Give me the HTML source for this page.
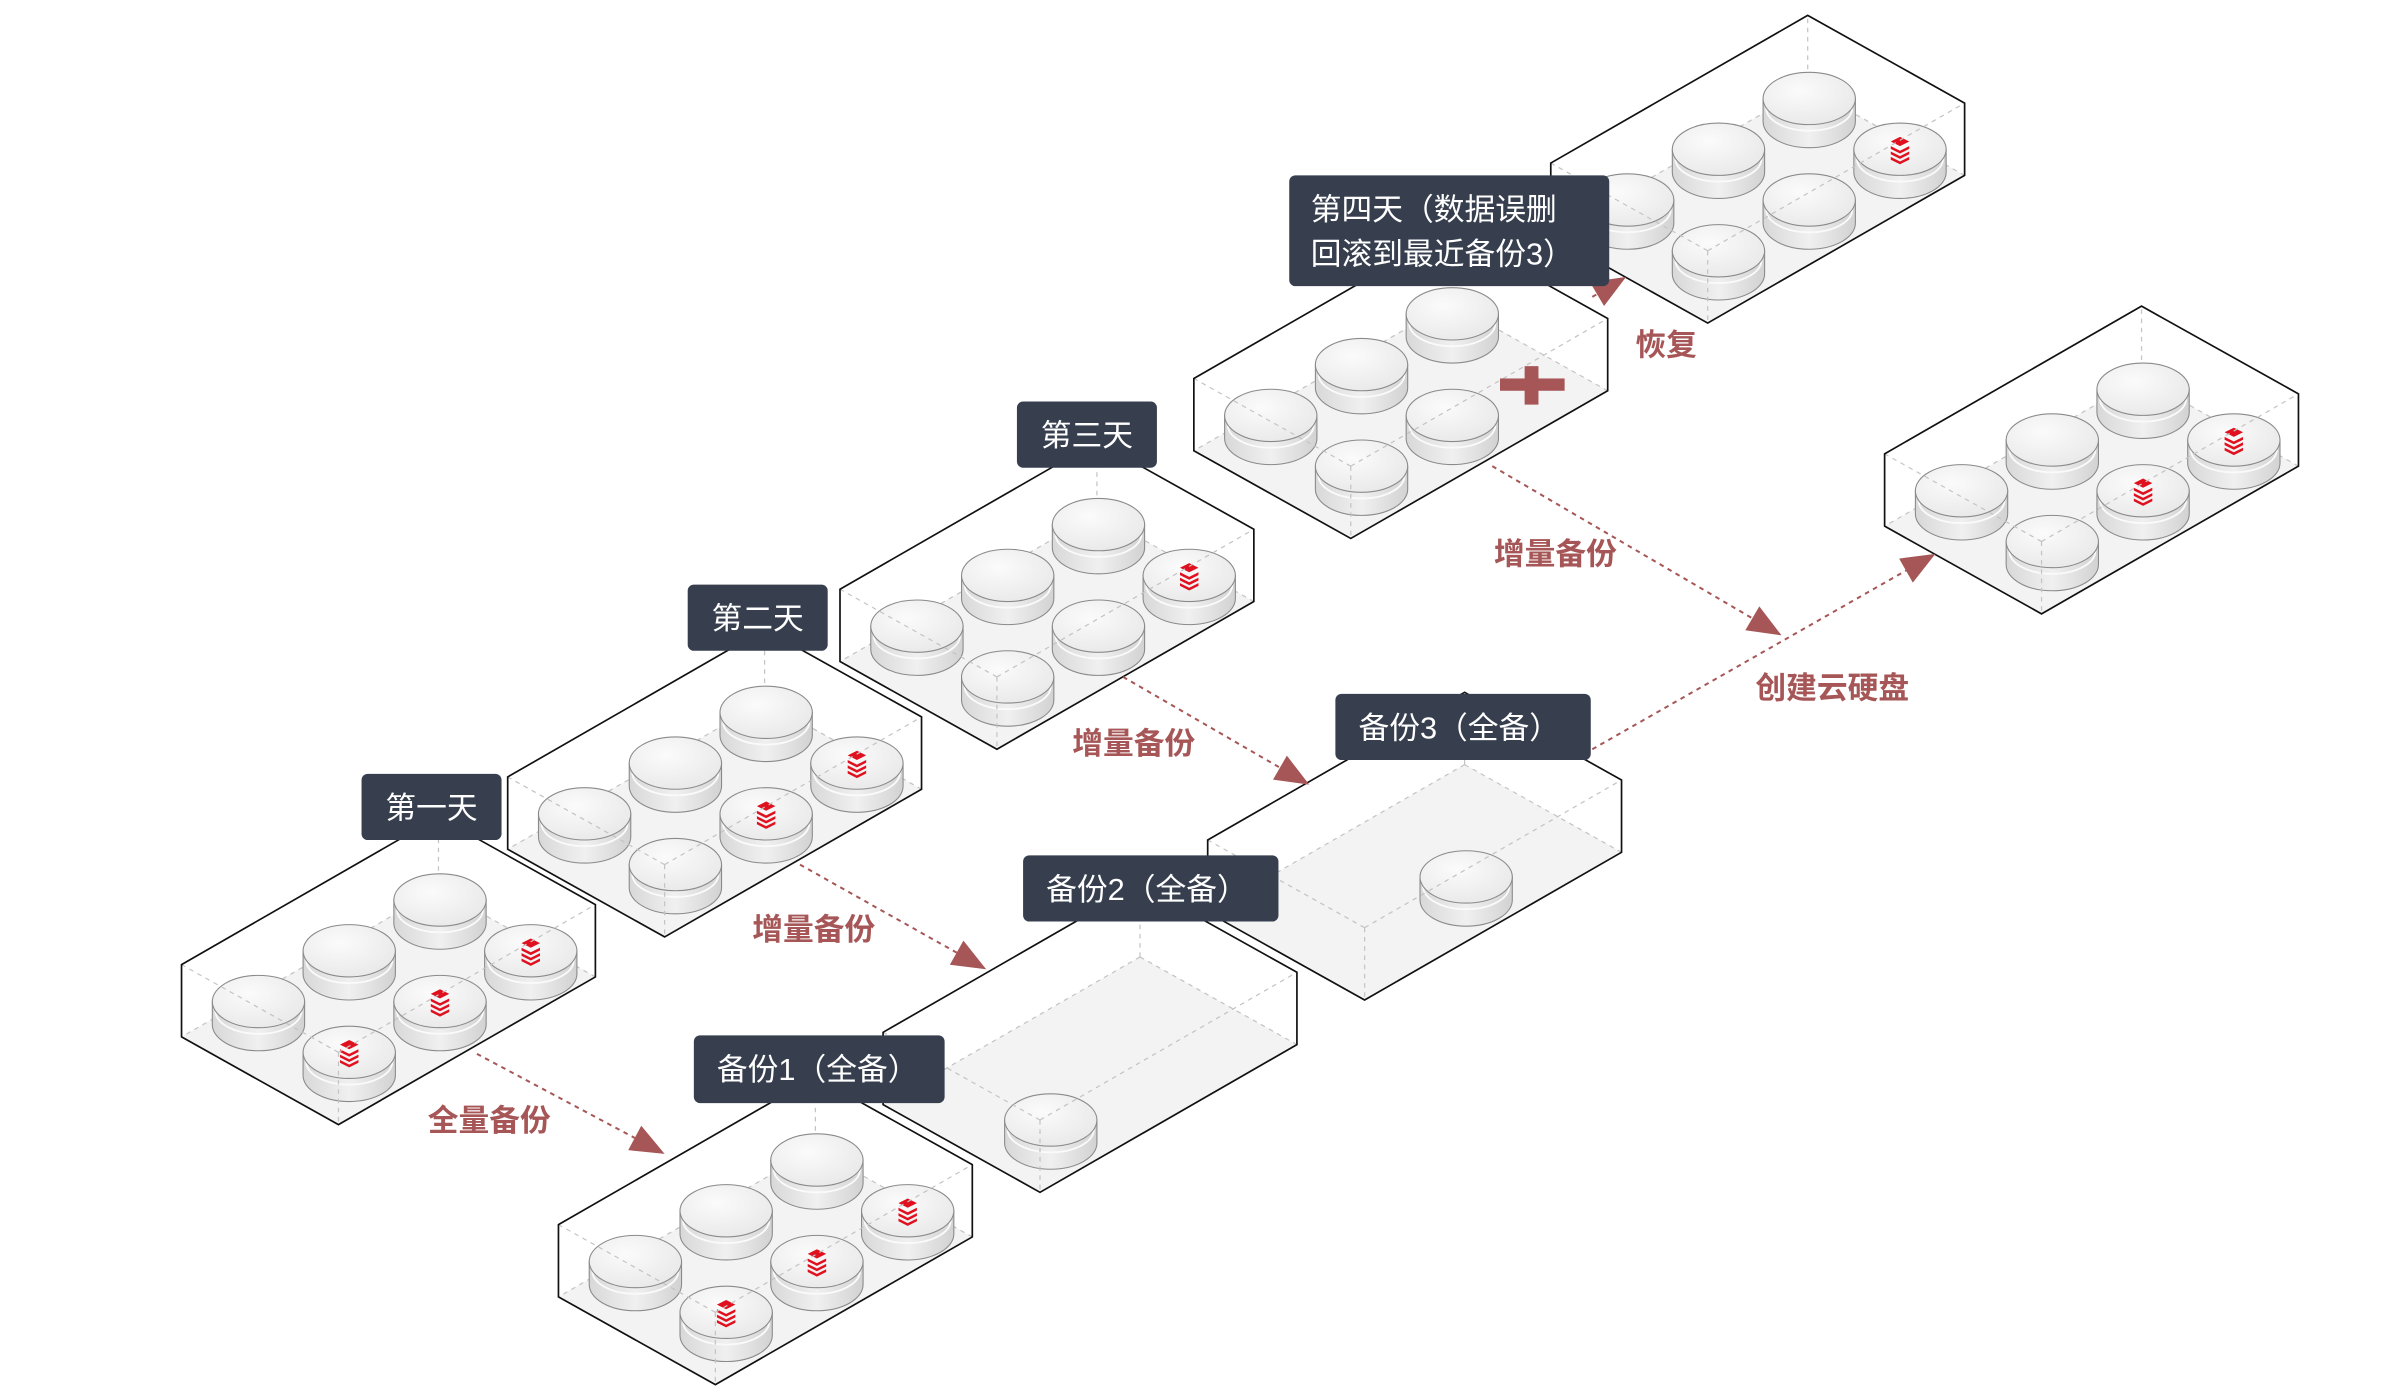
<!DOCTYPE html>
<html><head><meta charset="utf-8"><style>
html,body{margin:0;padding:0;background:#fff;}
svg{display:block;}
.lbl{font-family:"Liberation Sans","Noto Sans CJK SC",sans-serif;font-size:20px;fill:#fff;}
.red{font-family:"Liberation Sans","Noto Sans CJK SC",sans-serif;font-size:20px;fill:#a65656;font-weight:bold;}
</style></head><body>
<svg id="s" width="2400" height="1400" viewBox="0 0 1560 910" xmlns="http://www.w3.org/2000/svg">
<defs>
<linearGradient id="side" x1="0" y1="0" x2="1" y2="0">
<stop offset="0" stop-color="#d8d8d8"/><stop offset="0.5" stop-color="#f0f0f0"/><stop offset="1" stop-color="#d2d2d2"/></linearGradient>
<radialGradient id="top" cx="0.4" cy="0.35" r="0.8">
<stop offset="0" stop-color="#fbfbfb"/><stop offset="1" stop-color="#e6e6e6"/></radialGradient>
</defs>
<g id="boxes"></g>
<g id="arrows"></g>
<g id="texts">
<rect x="235" y="503" width="91" height="43" rx="4" fill="#373f4f"/>
<text class="lbl" x="280.5" y="532" text-anchor="middle">第一天</text>
<rect x="447" y="380" width="91" height="43" rx="4" fill="#373f4f"/>
<text class="lbl" x="492.5" y="409" text-anchor="middle">第二天</text>
<rect x="661" y="261" width="91" height="43" rx="4" fill="#373f4f"/>
<text class="lbl" x="706.5" y="290" text-anchor="middle">第三天</text>
<rect x="838" y="114" width="208" height="72" rx="4" fill="#373f4f"/>
<text class="lbl" x="852" y="143">第四天（数据误删</text>
<text class="lbl" x="852" y="172">回滚到最近备份3）</text>
<rect x="451" y="673" width="163" height="44" rx="4" fill="#373f4f"/>
<text class="lbl" x="466" y="702">备份1（全备）</text>
<rect x="665" y="556" width="166" height="43" rx="4" fill="#373f4f"/>
<text class="lbl" x="680" y="585">备份2（全备）</text>
<rect x="868" y="451" width="166" height="43" rx="4" fill="#373f4f"/>
<text class="lbl" x="883" y="480">备份3（全备）</text>
<text class="red" x="278" y="735">全量备份</text>
<text class="red" x="489" y="611">增量备份</text>
<text class="red" x="697" y="490">增量备份</text>
<text class="red" x="971" y="367">增量备份</text>
<text class="red" x="1063" y="231">恢复</text>
<text class="red" x="1141" y="454">创建云硬盘</text>
</g>
</svg>
<script>
var NS="http://www.w3.org/2000/svg";
function el(p,t,a){var e=document.createElementNS(NS,t);for(var k in a)e.setAttribute(k,a[k]);p.appendChild(e);return e;}
var B=document.getElementById('boxes');
function pts(a){return a.map(function(p){return p[0]+','+p[1]}).join(' ');}
function cyl(g,cx,cy,icon){
 var rx=30,ry=17,h=15;
 el(g,'path',{d:'M'+(cx-rx)+','+cy+' L'+(cx-rx)+','+(cy+h)+' A'+rx+' '+ry+' 0 0 0 '+(cx+rx)+','+(cy+h)+' L'+(cx+rx)+','+cy+' Z',fill:'url(#side)',stroke:'#8a8a8a','stroke-width':0.7});
 el(g,'path',{d:'M'+(cx-rx+2)+','+(cy+6)+' A'+(rx-2)+' '+(ry-2)+' 0 0 0 '+(cx+rx-2)+','+(cy+6),fill:'none',stroke:'#fafafa','stroke-width':1.2});
 el(g,'ellipse',{cx:cx,cy:cy,rx:rx,ry:ry,fill:'url(#top)',stroke:'#8a8a8a','stroke-width':0.7});
 if(icon){
  el(g,'path',{d:'M'+(cx-6)+','+(cy-5)+' l6,-3 l6,3 l-6,3 z',fill:'#e0101e'});
  for(var k=0;k<3;k++){el(g,'path',{d:'M'+(cx-6)+','+(cy-2+k*3.5)+' l6,3 l6,-3 l0,1.8 l-6,3 l-6,-3 z',fill:'#e0101e'});}
 }
}
function box(fx,fy,cyls,icons){
 var ax=102,ay=57,bx=167,by=-96,h=47;
 var F=[fx,fy],L=[fx-ax,fy-ay],R=[fx+bx,fy+by],K=[fx-ax+bx,fy-ay+by];
 var Ft=[fx,fy-h],Lt=[L[0],L[1]-h],Rt=[R[0],R[1]-h],Kt=[K[0],K[1]-h];
 var g=el(B,'g',{});
 el(g,'polygon',{points:pts([Lt,Kt,Rt,R,F,L]),fill:'#fff'});
 el(g,'polygon',{points:pts([L,K,R,F]),fill:'#f3f3f3'});
 var d={stroke:'#c4c4c4','stroke-width':0.8,'stroke-dasharray':'3,3',fill:'none'};
 el(g,'line',Object.assign({x1:K[0],y1:K[1],x2:L[0],y2:L[1]},d));
 el(g,'line',Object.assign({x1:K[0],y1:K[1],x2:R[0],y2:R[1]},d));
 el(g,'line',Object.assign({x1:K[0],y1:K[1],x2:Kt[0],y2:Kt[1]},d));
 var list=[];
 cyls.forEach(function(c){var i=c[0],j=c[1];list.push({x:fx+7+i*59-j*59,y:fy-47-i*33-j*33,ic:icons.indexOf(i+''+j)>=0});});
 list.sort(function(a,b){return a.y-b.y});
 list.forEach(function(c){cyl(g,c.x,c.y,c.ic);});
 el(g,'line',Object.assign({x1:Ft[0],y1:Ft[1],x2:Lt[0],y2:Lt[1]},d));
 el(g,'line',Object.assign({x1:Ft[0],y1:Ft[1],x2:Rt[0],y2:Rt[1]},d));
 el(g,'line',Object.assign({x1:Ft[0],y1:Ft[1],x2:F[0],y2:F[1]},d));
 el(g,'polygon',{points:pts([Lt,Kt,Rt,R,F,L]),fill:'none',stroke:'#111','stroke-width':1.1,'stroke-linejoin':'miter'});
 return g;
}
var all=[[0,0],[1,0],[2,0],[0,1],[1,1],[2,1]];
var five=[[0,0],[1,0],[0,1],[1,1],[2,1]];
box(1110,210,all,['20']);
box(1327,399,all,['10','20']);
box(878,350,five,[]);
box(648,487,all,['20']);
box(887,650,[[1,0]],[]);
box(432,609,all,['10','20']);
box(676,775,[[0,0]],[]);
box(220,731,all,['00','10','20']);
box(465,900,all,['00','10','20']);
var g=el(B,'g',{fill:'#a65656'});
el(g,'rect',{x:975,y:246,width:42,height:8});
el(g,'rect',{x:991,y:238,width:9,height:25});
var A=document.getElementById('arrows');
function arr(x1,y1,x2,y2){
 var dx=x2-x1,dy=y2-y1,l=Math.sqrt(dx*dx+dy*dy),ux=dx/l,uy=dy/l,hl=22,hw=9;
 var bx=x2-ux*hl,by=y2-uy*hl;
 el(A,'line',{x1:x1,y1:y1,x2:bx,y2:by,stroke:'#a65656','stroke-width':1.3,'stroke-dasharray':'3,3'});
 el(A,'polygon',{points:pts([[x2,y2],[bx-uy*hw,by+ux*hw],[bx+uy*hw,by-ux*hw]]),fill:'#a65656'});
}
arr(310,685,432,750);
arr(520,562,641,630);
arr(730,440,851,510);
arr(970,303,1158,413);
arr(1035,487,1258,360);
arr(1035,193,1057,180);
</script>
</body></html>
